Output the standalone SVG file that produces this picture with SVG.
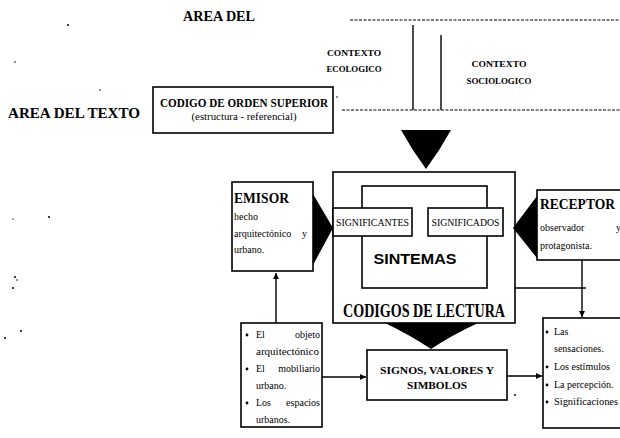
<svg xmlns="http://www.w3.org/2000/svg" width="620" height="438" viewBox="0 0 620 438">
<style>
.bx{fill:#fff;stroke:#000;stroke-width:1.6}
.ln{fill:none;stroke:#000;stroke-width:1.4}
.dl{fill:none;stroke:#000;stroke-width:1.1;stroke-dasharray:3 1.5}
.h{font-family:"Liberation Serif","DejaVu Serif",serif;font-weight:bold;fill:#000}
.t{font-family:"Liberation Serif","DejaVu Serif",serif;fill:#000;font-size:10px}
.e{text-anchor:end}
.s{font-family:"Liberation Sans","DejaVu Sans",sans-serif;font-weight:bold;fill:#000}
.tri{fill:#000}
</style>
<defs>
<marker id="ah" viewBox="0 0 10 10" refX="10" refY="5" markerWidth="6" markerHeight="6" orient="auto" markerUnits="userSpaceOnUse">
<path d="M0,0 L10,5 L0,10 z" fill="#000"/>
</marker>
</defs>
<rect width="620" height="438" fill="#fff"/>

<g id="noise" fill="#000">
<circle cx="68" cy="25" r="1"/><circle cx="15" cy="62" r="0.8"/><circle cx="100" cy="90" r="0.8"/>
<circle cx="49" cy="217" r="1"/><circle cx="13" cy="219" r="0.7"/><circle cx="15" cy="277" r="1"/>
<circle cx="17" cy="280" r="0.8"/><circle cx="13" cy="288" r="1"/><circle cx="21" cy="331" r="1"/>
<circle cx="5" cy="338" r="1"/><circle cx="515" cy="395" r="0.9"/><circle cx="337" cy="97" r="0.8"/>
</g>

<g id="labels">
<text class="h" x="183" y="21" font-size="15" textLength="72" lengthAdjust="spacingAndGlyphs">AREA DEL</text>
<text class="h" x="8" y="118" font-size="15" textLength="132" lengthAdjust="spacingAndGlyphs">AREA DEL TEXTO</text>
<text class="h" x="354" y="56" font-size="9" text-anchor="middle" textLength="54" lengthAdjust="spacingAndGlyphs">CONTEXTO</text>
<text class="h" x="354" y="72" font-size="9" text-anchor="middle" textLength="55" lengthAdjust="spacingAndGlyphs">ECOLOGICO</text>
<text class="h" x="499" y="67" font-size="9" text-anchor="middle" textLength="55" lengthAdjust="spacingAndGlyphs">CONTEXTO</text>
<text class="h" x="499" y="84" font-size="9" text-anchor="middle" textLength="65" lengthAdjust="spacingAndGlyphs">SOCIOLOGICO</text>
</g>

<g id="connectors">
<path class="dl" d="M350,20 H620"/>
<path class="dl" d="M342,110 H620"/>
<path class="ln" d="M413,25 V110"/>
<path class="ln" d="M441,35 V110"/>
<path class="ln" d="M276,323 V273" marker-end="url(#ah)"/>
<path class="ln" d="M515,288 H586"/>
<path class="ln" d="M582,260 V317" marker-end="url(#ah)"/>
<path class="ln" d="M322,377 H366" marker-end="url(#ah)"/>
<path class="ln" d="M507,376 H542" marker-end="url(#ah)"/>
</g>

<g id="codigo-orden">
<rect class="bx" x="153" y="87" width="180" height="46"/>
<text class="h" x="244" y="107" font-size="12" text-anchor="middle" textLength="168" lengthAdjust="spacingAndGlyphs">CODIGO DE ORDEN SUPERIOR</text>
<text class="t" x="244" y="120" font-size="9" text-anchor="middle" textLength="105" lengthAdjust="spacingAndGlyphs">(estructura - referencial)</text>
</g>

<path id="arrow-top" class="tri" d="M401,130 L451,130 Q440,150 426,169 Q412,150 401,130 z"/>

<g id="codigos-lectura">
<rect class="bx" x="333" y="172" width="182" height="151"/>
<text class="h" x="424" y="317" font-size="19" text-anchor="middle" textLength="162" lengthAdjust="spacingAndGlyphs">CODIGOS DE LECTURA</text>
</g>

<g id="sintemas">
<rect class="bx" x="362" y="186" width="125" height="102"/>
<text class="s" x="415" y="264" font-size="14" text-anchor="middle" textLength="83" lengthAdjust="spacingAndGlyphs">SINTEMAS</text>
</g>

<g id="significantes">
<rect class="bx" x="333" y="208" width="79" height="28"/>
<text class="t" x="372.5" y="226" font-size="9" text-anchor="middle" textLength="73" lengthAdjust="spacingAndGlyphs">SIGNIFICANTES</text>
</g>

<g id="significados">
<rect class="bx" x="428" y="208" width="75" height="28"/>
<text class="t" x="465.5" y="226" font-size="9" text-anchor="middle" textLength="68" lengthAdjust="spacingAndGlyphs">SIGNIFICADOS</text>
</g>

<g id="emisor">
<rect class="bx" x="232" y="182" width="81" height="89"/>
<text class="h" x="234" y="203" font-size="14" textLength="55" lengthAdjust="spacingAndGlyphs">EMISOR</text>
<text class="t" x="234" y="220">hecho</text>
<text class="t" x="234" y="237">arquitectónico</text>
<text class="t e" x="307" y="237">y</text>
<text class="t" x="234" y="253">urbano.</text>
<path class="tri" d="M313,194 L333,228 L313,265 z"/>
</g>

<g id="receptor">
<rect class="bx" x="537" y="190" width="90" height="70"/>
<text class="h" x="540" y="209" font-size="14" textLength="75" lengthAdjust="spacingAndGlyphs">RECEPTOR</text>
<text class="t" x="540" y="231">observador</text>
<text class="t e" x="621" y="231">y</text>
<text class="t" x="540" y="249">protagonista.</text>
<path class="tri" d="M537,196 L513,228 L537,258 z"/>
</g>

<path id="arrow-down" class="tri" d="M385,323 L478,323 Q452,335 431,349 Q410,335 385,323 z"/>

<g id="signos">
<rect class="bx" x="367" y="350" width="140" height="50"/>
<text class="h" x="437" y="374" font-size="11" text-anchor="middle" textLength="114" lengthAdjust="spacingAndGlyphs">SIGNOS, VALORES Y</text>
<text class="h" x="437" y="389" font-size="11" text-anchor="middle" textLength="60" lengthAdjust="spacingAndGlyphs">SIMBOLOS</text>
</g>

<g id="lista-izq">
<rect class="bx" x="241" y="323" width="81" height="104"/>
<g fill="#000"><circle cx="247" cy="335" r="1.4"/><circle cx="247" cy="369" r="1.4"/><circle cx="247" cy="403" r="1.4"/></g>
<text class="t" x="256" y="338">El</text>
<text class="t e" x="320" y="338">objeto</text>
<text class="t" x="256" y="355" textLength="63" lengthAdjust="spacingAndGlyphs">arquitectónico</text>
<text class="t" x="256" y="372">El</text>
<text class="t e" x="320" y="372">mobiliario</text>
<text class="t" x="256" y="389">urbano.</text>
<text class="t" x="256" y="406">Los</text>
<text class="t e" x="320" y="406">espacios</text>
<text class="t" x="256" y="423">urbanos.</text>
</g>

<g id="lista-der">
<rect class="bx" x="543" y="318" width="84" height="110"/>
<g fill="#000"><circle cx="547" cy="332" r="1.4"/><circle cx="547" cy="367" r="1.4"/><circle cx="547" cy="385" r="1.4"/><circle cx="547" cy="402" r="1.4"/></g>
<text class="t" x="554" y="335">Las</text>
<text class="t" x="554" y="352">sensaciones.</text>
<text class="t" x="554" y="370">Los estímulos</text>
<text class="t" x="554" y="388">La percepción.</text>
<text class="t" x="554" y="405" textLength="64" lengthAdjust="spacingAndGlyphs">Significaciones</text>
</g>
</svg>
